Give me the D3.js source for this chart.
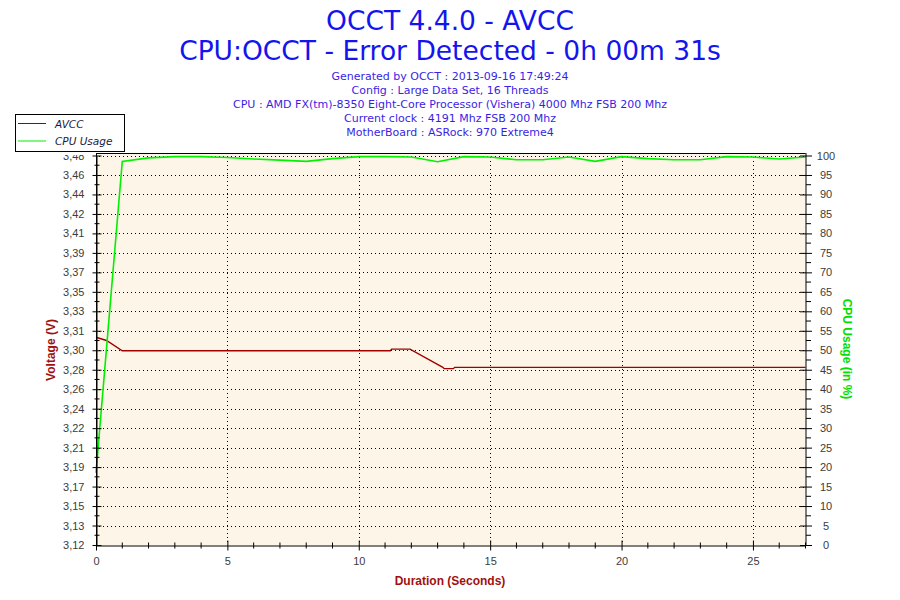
<html>
<head>
    <title>OCCT 4.4.0 - AVCC</title>
    <script src="https://d3js.org/d3.v7.min.js"></script>
    <style>
        body { margin: 0; background: #fff; }
    </style>
</head>
<body>
<script>
// --- data ---
var titleLines = ["OCCT 4.4.0 - AVCC", "CPU:OCCT - Error Detected - 0h 00m 31s"];
var infoLines = [
    "Generated by OCCT : 2013-09-16 17:49:24",
    "Config : Large Data Set, 16 Threads",
    "CPU : AMD FX(tm)-8350 Eight-Core Processor (Vishera) 4000 Mhz FSB 200 Mhz",
    "Current clock : 4191 Mhz FSB 200 Mhz",
    "MotherBoard : ASRock: 970 Extreme4"
];
var avccTime = [0, 0.4, 1.0, 11.2, 11.25, 11.95, 13.2, 13.25, 13.6, 13.65, 27];
var avccVolt = [3.312, 3.309, 3.2995, 3.2995, 3.301, 3.301, 3.2842, 3.283, 3.283, 3.2842, 3.2842];
var cpuTime = [0, 1, 2, 3, 4, 5, 6, 7, 8, 9, 10, 11, 12, 13, 14, 15, 16, 17, 18, 19, 20, 21, 22, 23, 24, 25, 26, 27];
var cpuUsage = [18.5, 98.5, 99.4, 99.7, 99.7, 99.5, 99.1, 98.8, 98.5, 99.2, 99.7, 99.7, 99.6, 98.4,
    99.7, 99.6, 98.9, 98.9, 99.6, 98.5, 99.7, 99.2, 98.9, 98.9, 99.7, 99.6, 99.1, 99.6];
var voltTickLabels = ["3,12", "3,13", "3,15", "3,17", "3,19", "3,21", "3,22", "3,24", "3,26", "3,28", "3,30",
    "3,31", "3,33", "3,35", "3,37", "3,39", "3,41", "3,42", "3,44", "3,46", "3,48"];
var pctTicks = [0, 5, 10, 15, 20, 25, 30, 35, 40, 45, 50, 55, 60, 65, 70, 75, 80, 85, 90, 95, 100];
var timeTicks = [0, 5, 10, 15, 20, 25];
var seriesNames = ["AVCC", "CPU Usage"];

var W = 900, H = 600;
var pLeft = 96, pRight = 805.5, pTop = 153, pBottom = 545;

var svg = d3.select("body").append("svg").attr("width", W).attr("height", H);

var x = d3.scaleLinear().domain([0, 27]).range([pLeft, pRight]);
var yP = d3.scaleLinear().domain([0, 100]).range([pBottom, 155.5]);
var yV = d3.scaleLinear().domain([3.12, 3.48]).range([pBottom, 155.5]);
var voltTicks = voltTickLabels.map((d, i) => 3.12 + i * 0.018);

// titles
svg.selectAll(".title").data(titleLines).enter().append("text")
    .attr("x", 450).attr("y", (d, i) => 30 + i * 30)
    .attr("text-anchor", "middle")
    .attr("font-family", "DejaVu Sans").attr("font-size", "26.5px")
    .attr("fill", "#1414ee").text(d => d);
svg.selectAll(".info").data(infoLines).enter().append("text")
    .attr("x", 450).attr("y", (d, i) => 80 + i * 14)
    .attr("text-anchor", "middle")
    .attr("font-family", "DejaVu Sans").attr("font-size", "11px")
    .attr("fill", "#3a1ee6").text(d => d);

// plot background + grid
svg.append("rect").attr("x", pLeft).attr("y", pTop).attr("width", pRight - pLeft).attr("height", pBottom - pTop)
    .attr("fill", "#fdf6e8");
var grid = svg.append("g").attr("stroke", "#000").attr("stroke-dasharray", "1,3");
grid.selectAll("line.h").data(pctTicks.slice(1)).enter().append("line")
    .attr("x1", pLeft + 3).attr("x2", pRight).attr("y1", d => Math.round(yP(d)) + 0.5).attr("y2", d => Math.round(yP(d)) + 0.5);
grid.selectAll("line.v").data(timeTicks.slice(1)).enter().append("line")
    .attr("y1", pTop).attr("y2", pBottom).attr("x1", d => Math.round(x(d)) + 0.5).attr("x2", d => Math.round(x(d)) + 0.5);
svg.append("line").attr("x1", pLeft).attr("x2", pRight).attr("y1", pTop + 0.5).attr("y2", pTop + 0.5).attr("stroke", "#000");

// lines
var avccData = avccTime.map((t, i) => [t, avccVolt[i]]);
var cpuData = cpuTime.map((t, i) => [t, cpuUsage[i]]);
svg.append("path").datum(avccData)
    .attr("d", d3.line().x(d => x(d[0])).y(d => yV(d[1])))
    .attr("fill", "none").attr("stroke", "#a00000").attr("stroke-width", 1.4);
svg.append("path").datum(cpuData)
    .attr("d", d3.line().x(d => x(d[0])).y(d => yP(d[1])))
    .attr("fill", "none").attr("stroke", "#00f000").attr("stroke-width", 1.6);

// axes
function styleAxis(g) {
    g.selectAll("path,line").attr("stroke", "#000");
    g.selectAll("text").attr("font-family", "Liberation Sans").attr("font-size", "11px").attr("fill", "#3c3c3c");
}
// the 3,48 label is cut by the top of the frame, as in the original
svg.append("clipPath").attr("id", "lclip").append("rect")
    .attr("x", -pLeft).attr("y", pTop + 2).attr("width", pLeft + 10).attr("height", H);
var la = svg.append("g").attr("transform", "translate(" + (pLeft + 0.5) + ",0)").attr("clip-path", "url(#lclip)")
    .call(d3.axisLeft(yV).tickValues(voltTicks).tickFormat((d, i) => voltTickLabels[i]).tickSize(4).tickPadding(8).tickSizeOuter(0));
la.selectAll(".tick line").attr("x1", 5);
styleAxis(la);
var lm = svg.append("g").attr("transform", "translate(" + (pLeft + 0.5) + ",0)");
lm.append("line").attr("x1", 0).attr("x2", 0).attr("y1", pTop).attr("y2", pBottom).attr("stroke", "#000");
lm.selectAll("line.minor").data(voltTicks.slice(1)).enter().append("line")
    .attr("x1", -2).attr("x2", 3).attr("stroke", "#000")
    .attr("y1", d => yV(d - 0.009)).attr("y2", d => yV(d - 0.009));

var ra = svg.append("g").attr("transform", "translate(" + (pRight + 0.5) + ",0)")
    .call(d3.axisRight(yP).tickValues(pctTicks).tickSize(6).tickPadding(14).tickSizeOuter(0));
ra.selectAll(".tick line").attr("x1", -6);
styleAxis(ra);
ra.selectAll(".tick text").attr("text-anchor", "middle").attr("x", 20);
ra.select(".domain").attr("d", "M0," + pTop + "V" + pBottom);
ra.selectAll("line.minor").data(pctTicks.slice(1)).enter().append("line")
    .attr("x1", 0).attr("x2", 5).attr("stroke", "#000")
    .attr("y1", d => yP(d - 2.5)).attr("y2", d => yP(d - 2.5));

var ba = svg.append("g").attr("transform", "translate(0," + (pBottom + 0.5) + ")")
    .call(d3.axisBottom(x).tickValues(timeTicks).tickSize(5).tickPadding(7).tickSizeOuter(0));
ba.selectAll(".tick line").attr("y1", -5);
styleAxis(ba);
ba.selectAll("line.minor").data(cpuTime.filter(t => t % 5 !== 0)).enter().append("line")
    .attr("x1", d => x(d)).attr("x2", d => x(d)).attr("y1", -3).attr("y2", 3).attr("stroke", "#000");

// axis titles
svg.append("text").attr("x", 450).attr("y", 585).attr("text-anchor", "middle")
    .attr("font-family", "Liberation Sans").attr("font-weight", "bold").attr("font-size", "12px")
    .attr("fill", "#a01010").text("Duration (Seconds)");
svg.append("text").attr("transform", "translate(55,350) rotate(-90)").attr("text-anchor", "middle")
    .attr("font-family", "Liberation Sans").attr("font-weight", "bold").attr("font-size", "12px")
    .attr("fill", "#a01010").text("Voltage (V)");
svg.append("text").attr("transform", "translate(843,349) rotate(90)").attr("text-anchor", "middle")
    .attr("font-family", "Liberation Sans").attr("font-weight", "bold").attr("font-size", "12px")
    .attr("fill", "#00e000").text("CPU Usage (in %)");

// legend
var lg = svg.append("g");
lg.append("rect").attr("x", 15.5).attr("y", 114.5).attr("width", 109).attr("height", 37)
    .attr("fill", "#fff").attr("stroke", "#000");
var legendColors = ["#a00000", "#00f000"];
lg.selectAll("line").data(seriesNames).enter().append("line")
    .attr("x1", 18).attr("x2", 46).attr("y1", (d, i) => 123.5 + i * 17.5).attr("y2", (d, i) => 123.5 + i * 17.5)
    .attr("stroke", (d, i) => legendColors[i]);
lg.selectAll("text").data(seriesNames).enter().append("text")
    .attr("x", 55).attr("y", (d, i) => 127.5 + i * 17.5)
    .attr("font-family", "DejaVu Sans").attr("font-style", "italic").attr("font-size", "10.5px")
    .attr("fill", "#1a1a3a").text(d => d);
</script>
</body>
</html>
